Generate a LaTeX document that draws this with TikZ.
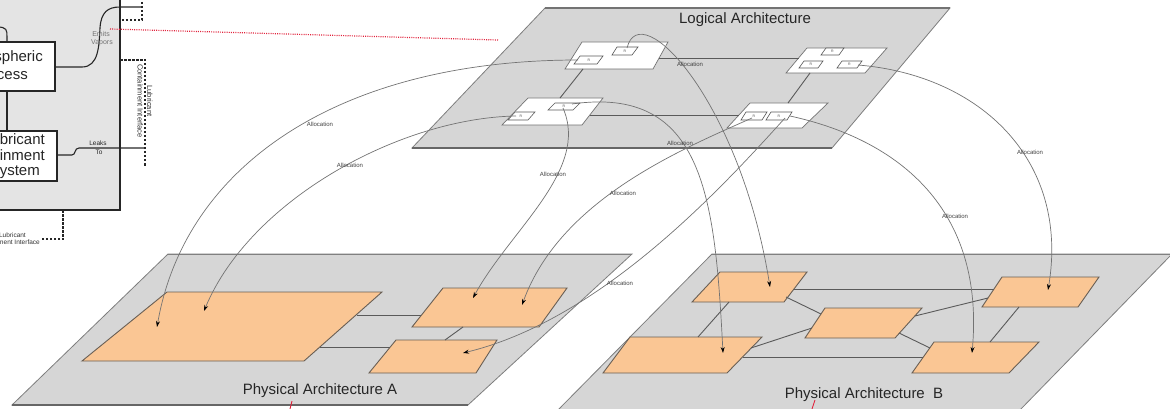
\documentclass[tikz,border=0pt]{standalone}
\usepackage{fontspec}
\setmainfont{Liberation Sans}
\usetikzlibrary{arrows.meta}
\definecolor{planegray}{RGB}{214,214,214}
\definecolor{planeedge}{RGB}{125,125,125}
\definecolor{panelgray}{RGB}{228,228,228}
\definecolor{orangebox}{RGB}{250,198,148}
\definecolor{oedge}{RGB}{105,95,85}
\definecolor{linkgray}{RGB}{90,90,90}
\definecolor{allocgray}{RGB}{115,115,115}
\definecolor{reddot}{RGB}{225,35,60}
\tikzset{
  plane/.style={fill=planegray, draw=planeedge, line width=0.8},
  planebase/.style={draw=black!60, line width=1.6},
  obox/.style={fill=orangebox, draw=oedge, line width=0.9},
  wbox/.style={fill=white, draw=black!55, line width=0.7},
  sbox/.style={fill=white, draw=black!65, line width=0.6},
  link/.style={draw=linkgray, line width=0.9},
  alloc/.style={draw=allocgray, line width=0.7, -{Stealth[length=6pt,width=4pt,color=black]}},
  albl/.style={font=\fontsize{6}{7}\selectfont, text=black!75, inner sep=0pt},
  rlbl/.style={font=\fontsize{3.5}{4}\selectfont, text=black!70, inner sep=0pt},
  title/.style={font=\fontsize{15}{18}\selectfont, text=black!85, inner sep=0pt},
  panelbox/.style={fill=white, draw=black!85, line width=1.2, inner sep=0pt},
  ptext/.style={font=\fontsize{15}{18}\selectfont, text=black!85, inner sep=0pt},
  ifdash/.style={draw=black!85, line width=1.1, dash pattern=on 2.5pt off 1.5pt},
  conn/.style={draw=black!85, line width=1.1},
  tiny/.style={font=\fontsize{6.5}{7.5}\selectfont, inner sep=0pt}
}
\begin{document}
\begin{tikzpicture}[x=1pt,y=-1pt]
\useasboundingbox (0,0) rectangle (1170,409);
\clip (0,0) rectangle (1170,409);

% ---------------- left panel ----------------
\path[fill=panelgray, draw=black!85, line width=1.2] (-10,-10) rectangle (120,210);
\node[panelbox, minimum width=115pt, minimum height=49pt] (atm) at (-2.5,66.5) {};
\node[panelbox, minimum width=120pt, minimum height=50pt] (lcs) at (-3,156) {};
\node[ptext, anchor=east] (t1) at (43,58) {Atmospheric};
\node[ptext, anchor=east] (t2) at (28,74) {Process};
\node[ptext, anchor=east] (t3) at (45,139) {Lubricant};
\node[ptext, anchor=east] (t4) at (45,155) {Containment};
\node[ptext, anchor=east] (t5) at (40,172) {Subsystem};
\coordinate (atmTop) at (7,42);
\coordinate (atmBot) at (7,91);
\coordinate (lcsTop) at (7,131);
\coordinate (topIn) at (-3,27);
\draw[conn] (topIn) .. controls (7,27) and (7,30) .. (7,37) -- (atmTop);
\draw[conn] (atmBot) -- (lcsTop);
\coordinate (atmR) at (55,67);
\coordinate (ifTop) at (142,7);
\draw[conn] (atmR) -- (82,67) .. controls (99,67) and (99,45) .. (100,28)
  .. controls (101,12) and (108,7) .. (120,7) -- (ifTop);
\draw[ifdash] (142,-2) -- (142,20) -- (120,20);
\node[font=\fontsize{7}{8}\selectfont, inner sep=0pt, text=black!55] (em1) at (101,34) {Emits};
\node[font=\fontsize{7}{8}\selectfont, inner sep=0pt, text=black!55] (em2) at (102,43) {Vapors};
\coordinate (lcsR) at (57,155);
\coordinate (ifMid) at (145,148);
\draw[conn] (lcsR) -- (72,155) .. controls (76,155) and (74,148) .. (79,148) -- (ifMid);
\node[tiny, text=black!85] (lk1) at (98,143) {Leaks};
\node[tiny, text=black!85] (lk2) at (99,152) {To};
\draw[ifdash] (120,60) -- (145,60) -- (145,167);
\node[font=\fontsize{7.5}{9.5}\selectfont, text=black!80, rotate=-90, align=center, inner sep=0pt] (lci) at (145,101) {Lubricant\\Containment Interface};
\draw[ifdash] (63,210) -- (63,239) -- (42,239);
\node[font=\fontsize{6.5}{7}\selectfont, text=black!80, anchor=east, inner sep=0pt] (bl1) at (26,235) {Lubricant};
\node[font=\fontsize{6.5}{7}\selectfont, text=black!80, anchor=east, inner sep=0pt] (bl2) at (40,242.5) {Containment Interface};

% red dotted reference line
\coordinate (rd1) at (110,29);
\coordinate (rd2) at (498,40);
\draw[reddot, line width=1.2, dash pattern=on 1pt off 1.2pt] (rd1) -- (rd2);

% ---------------- logical plane ----------------
\path[plane] (412,148) -- (832,148) -- (950,8) -- (545,8) -- cycle;
\draw[planebase] (412,148) -- (832,148);
\draw[draw=black!55, line width=1.1] (545,8) -- (950,8);
\node[title] (ltitle) at (745,20) {Logical Architecture};

% logical components
\path[wbox] (565,69) -- (653,69) -- (668,42) -- (582,42) -- cycle;
\path[wbox] (502,125) -- (582,125) -- (603,98) -- (528,98) -- cycle;
\path[wbox] (727,128) -- (802,128) -- (828,103) -- (750,103) -- cycle;
\path[wbox] (786,73) -- (865,73) -- (887,48) -- (807,48) -- cycle;
% small boxes
\path[sbox] (574,64) -- (597,64) -- (603,56) -- (580,56) -- cycle; \node[rlbl] at (589,60) {R};
\path[sbox] (612,55) -- (632,55) -- (638,47) -- (617,47) -- cycle; \node[rlbl] at (625,51) {R};
\path[sbox] (508,120) -- (528,120) -- (535,112) -- (515,112) -- cycle; \node[rlbl] at (521,116) {R};
\path[sbox] (548,110) -- (573,110) -- (580,103) -- (555,103) -- cycle; \node[rlbl] at (564,106.5) {R};
\path[sbox] (741,120) -- (762,120) -- (767,112) -- (746,112) -- cycle; \node[rlbl] at (754,116) {R};
\path[sbox] (766,120) -- (787,120) -- (792,112) -- (771,112) -- cycle; \node[rlbl] at (779,116) {R};
\path[sbox] (821,55) -- (839,55) -- (844,48) -- (826,48) -- cycle; \node[rlbl] at (832.5,51.5) {R};
\path[sbox] (799,68) -- (818,68) -- (823,61) -- (804,61) -- cycle; \node[rlbl] at (811,64.5) {R};
\path[sbox] (837,68) -- (857,68) -- (862,61) -- (842,61) -- cycle; \node[rlbl] at (849.5,64.5) {R};
% logical links
\coordinate (c1r) at (659,58); \coordinate (c4l) at (799,58);
\coordinate (c2r) at (590,115); \coordinate (c3l) at (739,115);
\coordinate (c1b) at (583,69); \coordinate (c2t) at (560,98);
\coordinate (c4b) at (810,73); \coordinate (c3t) at (788,103);
\draw[link] (c1r) -- (c4l);
\draw[link] (c2r) -- (c3l);
\draw[link] (c1b) -- (c2t);
\draw[link] (c4b) -- (c3t);

% ---------------- physical A ----------------
\path[plane] (12,405) -- (468,405) -- (632,254) -- (168,254) -- cycle;
\draw[planebase] (12,405) -- (468,405);
\draw[draw=black!50, line width=1] (168,254) -- (632,254);
\path[obox] (82,361) -- (304,361) -- (382,292) -- (167,292) -- cycle;
\path[obox] (412,327) -- (539,327) -- (567,288) -- (443,288) -- cycle;
\path[obox] (369,373) -- (476,373) -- (497,340) -- (396,340) -- cycle;
\coordinate (a1r) at (357,315); \coordinate (a2l) at (421,315);
\coordinate (a1r2) at (320,347); \coordinate (a3l) at (390,347);
\coordinate (a2b) at (463,327); \coordinate (a3t) at (445,340);
\draw[link] (a1r) -- (a2l);
\draw[link] (a1r2) -- (a3l);
\draw[link] (a2b) -- (a3t);
\node[title] (atitle) at (320,391) {Physical Architecture A};
\draw[reddot, line width=0.9] (292,401) -- (290,409);

% ---------------- physical B ----------------
\path[plane] (556,412) -- (1018,412) -- (1172,254) -- (712,254) -- cycle;
\draw[draw=black!50, line width=1] (712,254) -- (1172,254);
\path[obox] (692,302) -- (784,302) -- (807,272) -- (720,272) -- cycle;
\path[obox] (603,373) -- (727,373) -- (762,337) -- (630,337) -- cycle;
\path[obox] (805,338) -- (895,338) -- (922,308) -- (825,308) -- cycle;
\path[obox] (982,307) -- (1078,307) -- (1099,277) -- (1002,277) -- cycle;
\path[obox] (912,373) -- (1009,373) -- (1039,342) -- (934,342) -- cycle;
\coordinate (b1r) at (794,289); \coordinate (b4l) at (994,289);
\coordinate (b1rb) at (786,297); \coordinate (bml) at (821,314);
\coordinate (b1b) at (729,302); \coordinate (b2t) at (698,337);
\coordinate (b2r) at (751,348); \coordinate (bml2) at (812,328);
\coordinate (b2r2) at (743,357); \coordinate (b3l) at (923,357);
\coordinate (bmr) at (915,316); \coordinate (b4l2) at (988,298);
\coordinate (bmr2) at (899,333); \coordinate (b3l2) at (930,348);
\coordinate (b4b) at (1019,307); \coordinate (b3t) at (990,342);
\draw[link] (b1r) -- (b4l);
\draw[link] (b1rb) -- (bml);
\draw[link] (b1b) -- (b2t);
\draw[link] (b2r) -- (bml2);
\draw[link] (b2r2) -- (b3l);
\draw[link] (bmr) -- (b4l2);
\draw[link] (bmr2) -- (b3l2);
\draw[link] (b4b) -- (b3t);
\node[title] (btitle) at (864,395) {Physical Architecture\ \ B};
\draw[reddot, line width=0.9] (815,400) -- (812,409);

% ---------------- allocation curves ----------------
\coordinate (sA1) at (578,60);  \coordinate (eA1) at (157,327);
\coordinate (sA2) at (516,116); \coordinate (eA2) at (204,311);
\coordinate (sA3) at (563,108); \coordinate (eA3) at (473,298);
\coordinate (sA4) at (752,118); \coordinate (eA4) at (522,305);
\coordinate (sA5) at (785,118); \coordinate (eA5) at (463,353);
\coordinate (sB1) at (627,48);  \coordinate (eB1) at (770,287);
\coordinate (sB2) at (572,104); \coordinate (eB2) at (723,353);
\coordinate (sB3) at (790,116); \coordinate (eB3) at (972,353);
\coordinate (sB4) at (858,65);  \coordinate (eB4) at (1048,290);
\draw[alloc] (sA1) .. controls (340,60) and (185,165) .. (eA1);
\draw[alloc] (sA2) .. controls (400,118) and (250,200) .. (eA2);
\draw[alloc] (sA3) .. controls (590,170) and (510,230) .. (eA3);
\draw[alloc] (sA4) .. controls (680,150) and (560,200) .. (eA4);
\draw[alloc] (sA5) .. controls (720,190) and (600,320) .. (eA5);
\draw[alloc] (sB1) .. controls (640,-5) and (740,100) .. (eB1);
\draw[alloc] (sB2) .. controls (705,85) and (715,200) .. (eB2);
\draw[alloc] (sB3) .. controls (900,140) and (985,210) .. (eB3);
\draw[alloc] (sB4) .. controls (980,75) and (1070,160) .. (eB4);
\node[albl] (l1) at (320,124) {Allocation};
\node[albl] (l2) at (350,165) {Allocation};
\node[albl] (l3) at (553,174) {Allocation};
\node[albl] (l4) at (623,193) {Allocation};
\node[albl] (l5) at (620,283) {Allocation};
\node[albl] (l6) at (690,64) {Allocation};
\node[albl] (l7) at (680,143) {Allocation};
\node[albl] (l8) at (955,216) {Allocation};
\node[albl] (l9) at (1030,152) {Allocation};
\end{tikzpicture}
\end{document}
